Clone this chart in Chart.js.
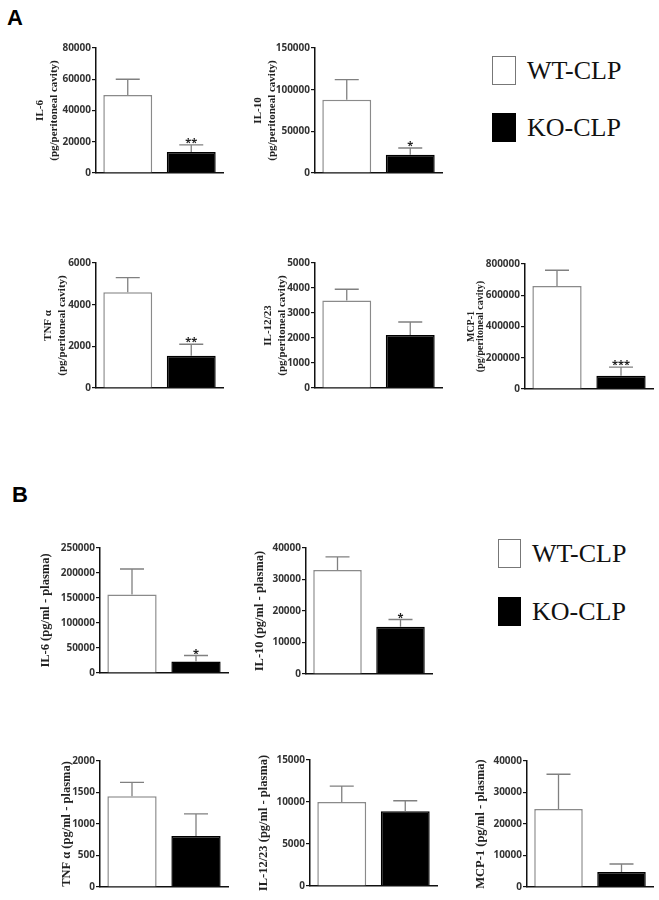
<!DOCTYPE html>
<html>
<head>
<meta charset="utf-8">
<script src="https://cdn.jsdelivr.net/npm/chart.js@4.4.0/dist/chart.umd.min.js"></script>
<style>
  body { margin: 0; background: #fff; width: 659px; height: 900px; position: relative; overflow: hidden; }
  canvas { position: absolute; }
  .letter { position: absolute; font: bold 22px "Liberation Sans", Arial, sans-serif; line-height: 22px; color: #000; }
  .box { position: absolute; box-sizing: border-box; }
  .legtext { position: absolute; font: 26px "Liberation Serif", serif; line-height: 26px; color: #111; white-space: nowrap; }
</style>
</head>
<body>
<div class="letter" style="left:7px;top:7px">A</div>
<div class="letter" style="left:12px;top:484px">B</div>

<div id="legends"></div>

<script>
// groups and cytokines
const groups = ['WT-CLP', 'KO-CLP'];
const cytokines = ['IL-6', 'IL-10', 'TNF \u03b1', 'IL-12/23', 'MCP-1'];

// panel A: peritoneal lavage (pg/peritoneal cavity)
const peritonealWT = [50000, 88000, 4600, 3500, 660000];
const peritonealWTErr = [10000, 24000, 700, 450, 100000];
const peritonealKO = [13500, 22000, 1550, 2120, 85000];
const peritonealKOErr = [4500, 8000, 550, 520, 55000];
const peritonealStars = ['**', '*', '**', '', '***'];
const peritonealMax = [80000, 150000, 6000, 5000, 800000];
const peritonealStep = [20000, 50000, 2000, 1000, 200000];

// panel B: plasma (pg/ml - plasma)
const plasmaWT = [157000, 33000, 1440, 10000, 24800];
const plasmaWTErr = [51000, 4200, 220, 1900, 11000];
const plasmaKO = [23000, 15000, 810, 8900, 4800];
const plasmaKOErr = [12000, 2300, 350, 1250, 2500];
const plasmaStars = ['*', '*', '', '', ''];
const plasmaMax = [250000, 40000, 2000, 15000, 40000];
const plasmaStep = [50000, 10000, 500, 5000, 10000];

// layout (pixels in the 659x900 page)
const AXIS_W = 70;
const layoutA = {
  axisX: [96, 315, 96, 315, 525],
  top: [48, 48, 263, 263, 264],
  plotW: [127, 127, 127, 127, 128],
  plotH: [125, 125, 125, 125, 125],
  titleX: [40, 258, 48, 268, 471],
  titleSize: [11, 11, 11, 11, 10],
  titleLH: [1.3, 1.3, 1.3, 1.3, 0.95]
};
const layoutB = {
  axisX: [100, 306, 100, 310, 527],
  top: [548, 548, 761, 760, 761],
  plotW: [128, 126, 128, 127, 126],
  plotH: [125, 126, 126, 126, 126],
  titleX: [46, 260, 67, 264, 481],
  titleSize: [12.5, 12.5, 12.5, 12.5, 12.5],
  titleLH: [1.2, 1.2, 1.2, 1.2, 1.2]
};

// error bars + significance stars drawn on top of the bars
const errorBarPlugin = {
  id: 'errorBars',
  afterDatasetsDraw(chart, args, opts) {
    const meta = chart.getDatasetMeta(0);
    const yScale = chart.scales.y;
    const ctx = chart.ctx;
    const vals = chart.data.datasets[0].data;
    ctx.save();
    meta.data.forEach((bar, i) => {
      const top = yScale.getPixelForValue(vals[i] + opts.errors[i]);
      ctx.strokeStyle = '#808080';
      ctx.lineWidth = 1.3;
      ctx.beginPath();
      ctx.moveTo(bar.x, bar.y);
      ctx.lineTo(bar.x, top);
      ctx.moveTo(bar.x - 12, top);
      ctx.lineTo(bar.x + 12, top);
      ctx.stroke();
      if (i === 1 && opts.star) {
        ctx.fillStyle = '#222';
        ctx.font = 'bold 11px "Open Sans", sans-serif';
        ctx.textAlign = 'center';
        ctx.textBaseline = 'alphabetic';
        ctx.fillText(opts.star, bar.x, top + 1);
      }
    });
    ctx.restore();
  }
};

function makeChart(opt) {
  const cv = document.createElement('canvas');
  const padTop = 10, padBottom = 10, padRight = 4;
  const w = AXIS_W + opt.plotW + padRight;
  const h = padTop + opt.plotH + padBottom;
  cv.width = w;
  cv.height = h;
  cv.style.left = (opt.axisX - AXIS_W) + 'px';
  cv.style.top = (opt.top - padTop) + 'px';
  document.body.appendChild(cv);

  const titleFont = { family: '"Liberation Serif", serif', weight: 'bold', size: opt.titleSize, lineHeight: opt.titleLH };
  const lh = opt.titleSize * opt.titleLH;
  const titlePad = opt.titleX - lh / 2 - (opt.axisX - AXIS_W);

  return new Chart(cv.getContext('2d'), {
    type: 'bar',
    plugins: [errorBarPlugin],
    data: {
      labels: groups,
      datasets: [{
        data: opt.values,
        backgroundColor: ['#ffffff', '#000000'],
        borderColor: ['#8a8a8a', '#000000'],
        borderWidth: 1.5,
        barPercentage: 0.77,
        categoryPercentage: 1.0
      }]
    },
    options: {
      responsive: false,
      animation: false,
      layout: { padding: { top: padTop, bottom: padBottom, left: 0, right: padRight } },
      plugins: {
        legend: { display: false },
        tooltip: { enabled: false },
        errorBars: { errors: opt.errors, star: opt.star }
      },
      scales: {
        x: {
          ticks: { display: false },
          grid: { display: false, drawTicks: false },
          border: { display: true, color: '#111', width: 1.5 },
          afterFit: s => { s.height = 0; }
        },
        y: {
          min: 0,
          max: opt.max,
          ticks: {
            stepSize: opt.step,
            color: '#333',
            padding: 1,
            font: { family: '"Open Sans", sans-serif', weight: 'bold', size: 10 },
            callback: v => String(v)
          },
          grid: { drawOnChartArea: false, drawTicks: true, tickLength: 4, color: '#111', lineWidth: 1.2 },
          border: { display: true, color: '#111', width: 1.5 },
          title: { display: true, text: opt.title, color: '#222', font: titleFont, padding: { top: titlePad, bottom: 0 } },
          afterFit: s => { s.width = AXIS_W; }
        }
      }
    }
  });
}

cytokines.forEach((name, i) => {
  makeChart({
    axisX: layoutA.axisX[i], top: layoutA.top[i], plotW: layoutA.plotW[i], plotH: layoutA.plotH[i],
    titleX: layoutA.titleX[i], titleSize: layoutA.titleSize[i], titleLH: layoutA.titleLH[i],
    values: [peritonealWT[i], peritonealKO[i]],
    errors: [peritonealWTErr[i], peritonealKOErr[i]],
    star: peritonealStars[i],
    max: peritonealMax[i], step: peritonealStep[i],
    title: [name, '(pg/peritoneal cavity)']
  });
  makeChart({
    axisX: layoutB.axisX[i], top: layoutB.top[i], plotW: layoutB.plotW[i], plotH: layoutB.plotH[i],
    titleX: layoutB.titleX[i], titleSize: layoutB.titleSize[i], titleLH: layoutB.titleLH[i],
    values: [plasmaWT[i], plasmaKO[i]],
    errors: [plasmaWTErr[i], plasmaKOErr[i]],
    star: plasmaStars[i],
    max: plasmaMax[i], step: plasmaStep[i],
    title: name + ' (pg/ml - plasma)'
  });
});

// legends (HTML swatches)
function legend(x, y1, y2, bw, bh) {
  const root = document.getElementById('legends');
  [[y1, '#fff', '1.5px solid #777'], [y2, '#000', '1.5px solid #000']].forEach((r, k) => {
    const b = document.createElement('div');
    b.className = 'box';
    b.style.cssText = `left:${x}px;top:${r[0]}px;width:${bw}px;height:${bh}px;background:${r[1]};border:${r[2]}`;
    root.appendChild(b);
    const t = document.createElement('div');
    t.className = 'legtext';
    t.textContent = groups[k];
    t.style.left = (x + bw + 11) + 'px';
    t.style.top = (r[0] + bh / 2 - 13) + 'px';
    root.appendChild(t);
  });
}
legend(492, 56, 113, 24, 29);
legend(498, 539, 597, 23, 29);
</script>
</body>
</html>
